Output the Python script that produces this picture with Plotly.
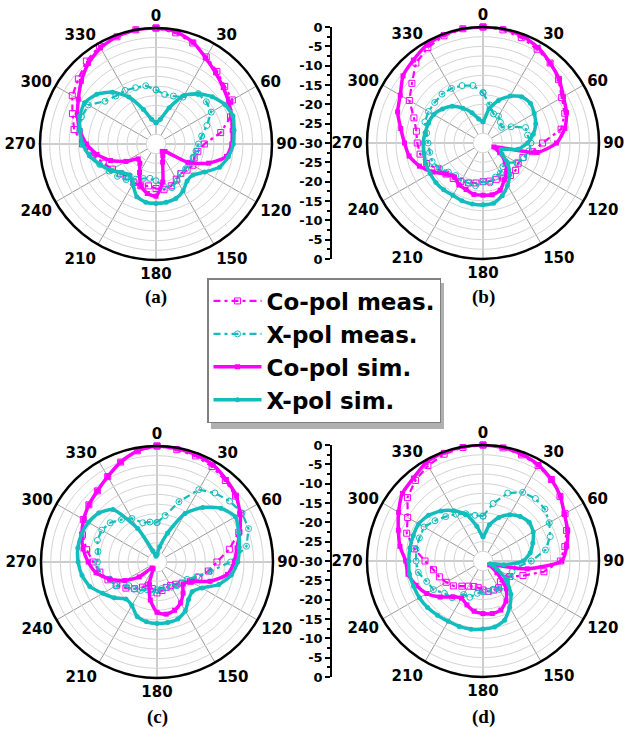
import numpy as np
import plotly.graph_objects as go

# ---------------- data (dB) ----------------
THETA = list(range(0, 360, 10))
ANGLE_TICKS = list(range(0, 360, 30))
RADIAL_TICKS = list(range(-30, 31, 5))
HOLE_DB = -27.5          # innermost grid ring; the spokes stop there
HOLE_THETA = list(range(0, 361, 5))

# (a)
A_CO_MEAS = [0, -0.8, -2.2, -4, -5.5, -6.8, -7.2, -9.5, -13, -17.5, -19, -19.5, -19, -19.5, -20, -19.5, -18.5, -18,
             -18.5, -19, -18.5, -18.5, -19, -18, -17, -15.5, -13.5, -11, -8.5, -7, -5, -3.8, -2, -0.8, -0.5, 0]
A_X_MEAS = [-16, -17, -16.8, -16, -13, -13, -13.5, -16, -18, -19, -19.5, -19.8, -20, -20, -20, -19, -18, -19,
            -20.5, -21, -20.5, -19.5, -18, -17, -16, -14.5, -13, -11, -10, -9.5, -9.8, -12.8, -13.8, -14, -14.5, -14.7]
A_CO_SIM = [0, -0.5, -2, -4.3, -6, -7.3, -8.3, -9.2, -10, -10.4, -11.5, -15.5, -20.5, -27, -27.5, -26.5, -25, -20,
            -16.5, -17, -18.5, -21.5, -23.5, -24, -21, -17.5, -14.5, -12, -10, -8.4, -6.8, -4.8, -2.8, -1.3, -0.4, 0]
A_X_SIM = [-24.5, -23.5, -20, -15.5, -13, -11, -9.5, -8.8, -9.5, -10, -11, -12.5, -15.5, -17.5, -17.5, -16, -15, -14.7,
           -14.6, -14.7, -15.5, -18, -19.5, -18.5, -16.5, -14.5, -12.5, -11, -10, -9, -8.7, -10, -12.5, -16, -20.5, -23.5]

# (b)
B_CO_MEAS = [0, -0.3, -1, -2, -3, -4.5, -6.5, -7.5, -9.5, -14.6, -17, -19, -19.5, -19, -19, -19.5, -20, -20,
             -20, -19.5, -19, -18.5, -18, -17.5, -16.5, -14.5, -13.5, -13, -12.5, -11, -8, -6, -3, -1.5, -0.5, 0]
B_X_MEAS = [-17, -20, -22, -22, -23, -23.7, -21.6, -18.3, -18.3, -17.6, -18, -18.8, -20, -22, -22, -21, -20.6, -19.5,
            -20, -18.8, -19, -18.8, -19, -18.3, -17, -16, -16, -15.8, -15.2, -14, -13.7, -13.7, -13.5, -13.7, -14.2, -14.9]
B_CO_SIM = [0, 0, -0.5, -1.5, -3, -4.3, -6, -7, -8.5, -11, -15.8, -27, -25, -22.5, -20.5, -19, -17, -16.4,
            -16.5, -16.5, -17.2, -17.5, -18.5, -17.5, -15, -12.5, -10.6, -9.7, -8.4, -6.5, -5.3, -3, -2, -0.8, -0.2, 0]
B_X_SIM = [-24.5, -21, -18.3, -16, -14.4, -14, -14.7, -15.5, -16.8, -18.5, -20.8, -25, -24.3, -21.6, -19.3, -17.3, -15.5, -14.2,
           -14, -14, -14.1, -14.4, -14.2, -14.1, -14.2, -14.3, -14.5, -14.5, -14.8, -15, -15.3, -16.3, -17.6, -19.6, -21.7, -23.7]

# (c)
C_CO_MEAS = [0, -0.5, -0.8, -1.5, -2.5, -3.5, -5, -7.5, -11, -14.5, -16.5, -18.5, -20, -21.5, -22.5, -23, -23, -22.5,
             -22, -23, -23.5, -22.5, -21, -19.5, -18, -16.5, -15, -13.5, -11.5, -9.5, -8, -7, -6, -4.5, -2.5, -0.8]
C_X_MEAS = [-19.8, -17.8, -13.4, -8.4, -6.7, -5.5, -4.6, -4.8, -6.5, -11, -16, -19, -21, -21.5, -22, -22.5, -23, -23,
            -22.8, -22, -22.4, -21.5, -20.9, -20.5, -17.7, -17, -14.5, -14.6, -14.5, -13.6, -13.5, -14.2, -15.7, -17, -19.2, -19.5]
C_CO_SIM = [0, -0.3, -0.5, -1, -2.2, -3.3, -5.2, -7.2, -9, -10, -11.5, -15.4, -19.9, -21.2, -19.5, -17.8, -16.7, -16.3,
            -17, -20, -24, -28, -28, -24, -20.4, -17, -14, -12.2, -10.6, -9.3, -8.1, -7, -6, -4.5, -2.5, -0.8]
C_X_SIM = [-28, -26, -22, -15.5, -11.6, -8.4, -6.6, -7.5, -8.4, -9.1, -10.5, -13, -16.6, -18.1, -17.3, -15.4, -14.3, -14.1,
           -14.1, -14.3, -15, -17, -17.5, -15.6, -13.8, -11.5, -10.3, -9.6, -9.2, -9.2, -9.5, -10.3, -12.3, -20, -27, -28.5]

# (d)
D_CO_MEAS = [0, -0.3, -0.8, -1.5, -2.5, -4, -5.5, -7, -8.5, -10, -14, -19, -22, -23, -23, -22, -22, -22,
             -22.5, -23, -23, -22.5, -21.5, -20, -19, -18, -17, -15, -12, -9, -7.5, -4.5, -2.8, -1.5, -0.6, -0.2]
D_X_MEAS = [-18.4, -14.9, -11.3, -9.5, -8.9, -9.1, -10.2, -11.5, -13.6, -17.5, -21, -22, -21.9, -22, -21.6, -21.5, -22.2, -22,
            -22, -21.5, -20, -20, -17.6, -17, -15.2, -14.5, -13, -12.7, -12.4, -12.5, -12.4, -13.8, -15, -16, -17, -18]
D_CO_SIM = [0, -0.2, -0.6, -1.3, -2.5, -3.9, -5.7, -6.7, -8, -9.6, -18.4, -27, -28, -25.3, -20.6, -18.1, -16.5, -16.2,
            -16.4, -16.8, -17.9, -18.9, -17.9, -15.5, -13.2, -11.6, -10.3, -10, -8.2, -6.7, -4.8, -2.8, -2, -0.6, -0.1, 0]
D_X_SIM = [-23.7, -20.5, -18, -16.2, -15, -14.4, -15, -16.3, -17.6, -19.6, -24.5, -28, -25.8, -21.9, -18.8, -16.2, -13.7, -12.7,
           -12.4, -12.1, -12, -12, -11.7, -11.3, -11, -10.9, -10.7, -10.8, -10.8, -10.8, -10.8, -11.6, -13.1, -15, -17.2, -20.9]

PANELS = {
    "a": (A_CO_MEAS, A_X_MEAS, A_CO_SIM, A_X_SIM),
    "b": (B_CO_MEAS, B_X_MEAS, B_CO_SIM, B_X_SIM),
    "c": (C_CO_MEAS, C_X_MEAS, C_CO_SIM, C_X_SIM),
    "d": (D_CO_MEAS, D_X_MEAS, D_CO_SIM, D_X_SIM),
}
NAMES = ["Co-pol meas.", "X-pol meas.", "Co-pol sim.", "X-pol sim."]
LABELS = ["(a)", "(b)", "(c)", "(d)"]

# ---------------- layout / styling ----------------
W, H = 633, 732
R = 116
CENTERS = {"a": (156, 144), "b": (483, 143), "c": (157, 562), "d": (483, 561)}
LABEL_Y = {"a": 297, "b": 297, "c": 717, "d": 717}
MAG = "#FF00FF"
CYA = "#14BDBD"
SANS = "DejaVu Sans, Liberation Sans, Arial"

STYLES = [
    dict(mode="lines+markers", line=dict(color=MAG, width=2.2, dash="7px,4px,3px,4px"),
         marker=dict(symbol="square-open", size=6, color=MAG, line=dict(width=1))),
    dict(mode="lines+markers", line=dict(color=CYA, width=2.2, dash="7px,4px,3px,4px"),
         marker=dict(symbol="circle-open", size=6, color=CYA, line=dict(width=1))),
    dict(mode="lines+markers", line=dict(color=MAG, width=3.5, shape="spline", smoothing=0.6),
         marker=dict(symbol="square", size=5, color=MAG)),
    dict(mode="lines+markers", line=dict(color=CYA, width=3.5, shape="spline", smoothing=0.6),
         marker=dict(symbol="circle", size=5, color=CYA)),
]

fig = go.Figure()
tick_font = dict(family=SANS, size=15, color="black", weight="bold")

for i, (key, series) in enumerate(PANELS.items()):
    pname = "polar" if i == 0 else f"polar{i + 1}"
    # white centre disc (spokes end at the innermost ring)
    fig.add_trace(go.Scatterpolar(
        r=[HOLE_DB] * len(HOLE_THETA), theta=HOLE_THETA, subplot=pname, mode="lines",
        fill="toself", fillcolor="white", line=dict(color="#d4d4d4", width=1),
        showlegend=False, hoverinfo="skip"))
    for j, vals in enumerate(series):
        r = np.array(vals + [vals[0]], dtype=float)
        th = THETA + [THETA[0]]
        fig.add_trace(go.Scatterpolar(
            r=r, theta=th, name=NAMES[j], subplot=pname,
            showlegend=(i == 0), legendgroup=NAMES[j], hoverinfo="skip", **STYLES[j]))
    cx, cy = CENTERS[key]
    fig.layout[pname] = dict(
        domain=dict(x=[(cx - R) / W, (cx + R) / W], y=[1 - (cy + R) / H, 1 - (cy - R) / H]),
        bgcolor="white",
        radialaxis=dict(range=[-30, 0], tick0=0, dtick=2.5, showticklabels=False, ticks="",
                        showline=False, gridcolor="#d4d4d4", gridwidth=1),
        angularaxis=dict(rotation=90, direction="clockwise", tickmode="array",
                         tickvals=ANGLE_TICKS, ticktext=[str(a) for a in ANGLE_TICKS],
                         tickfont=tick_font, ticks="", showline=True, linecolor="black",
                         linewidth=2.5, gridcolor="#9a9a9a", gridwidth=1),
    )

# stand-alone radial scales between the columns (rows 1 and 2)
AXIS_X = 331
for key, yname, ytrace in [("b", "yaxis", "y"), ("d", "yaxis2", "y2")]:
    cx, cy = CENTERS[key]
    fig.add_trace(go.Scatter(x=[None], y=[None], xaxis="x", yaxis=ytrace, showlegend=False, hoverinfo="skip"))
    fig.layout[yname] = dict(
        domain=[1 - (cy + R) / H, 1 - (cy - R) / H], range=[-30, 30], anchor="free",
        position=AXIS_X / W, side="left", showline=True, linecolor="black", linewidth=1.5,
        ticks="outside", ticklen=5, tickwidth=1.5, tickcolor="black",
        tickmode="array", tickvals=RADIAL_TICKS, ticktext=[str(abs(v) - 30) for v in RADIAL_TICKS],
        minor=dict(tickmode="linear", tick0=0, dtick=2.5, ticks="outside", ticklen=3, tickcolor="black"),
        tickfont=dict(family=SANS, size=13, color="black", weight="bold"),
        showgrid=False, zeroline=False, fixedrange=True, automargin=False,
    )
fig.layout.xaxis = dict(domain=[0.52, 0.53], visible=False, range=[0, 1], fixedrange=True, automargin=False)

# panel labels
for key, lab in zip("abcd", LABELS):
    cx, cy = CENTERS[key]
    fig.add_annotation(x=cx / W, y=1 - LABEL_Y[key] / H, xref="paper", yref="paper", text=lab,
                       xanchor="center", yanchor="middle", showarrow=False,
                       font=dict(family="Liberation Serif, Times New Roman", size=19,
                                 color="black", weight="bold"))

# legend shadow
fig.add_shape(type="rect", xref="paper", yref="paper", x0=211 / W, x1=444 / W,
              y0=1 - 429 / H, y1=1 - 283 / H, fillcolor="#b0b0b0", line=dict(width=0), layer="above")

fig.update_layout(
    width=W, height=H, margin=dict(l=0, r=0, t=0, b=0, autoexpand=False),
    paper_bgcolor="white", plot_bgcolor="rgba(0,0,0,0)",
    legend=dict(x=207 / W, y=1 - 278 / H, xanchor="left", yanchor="top",
                bgcolor="white", bordercolor="#808080", borderwidth=1.5, itemwidth=48,
                tracegroupgap=0,
                font=dict(family=SANS, size=23, color="black", weight="bold")),
)

fig.write_html("out.html")
